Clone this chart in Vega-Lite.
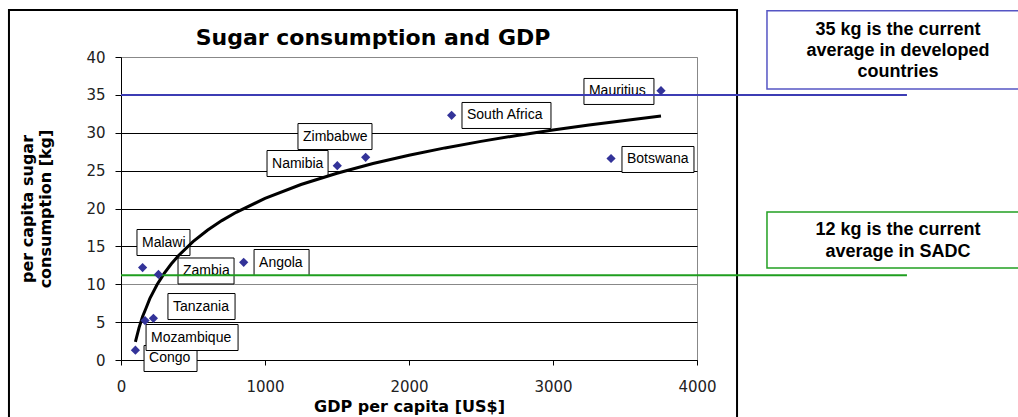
{
  "$schema": "https://vega.github.io/schema/vega-lite/v6.json",
  "width": 576,
  "height": 303,
  "autosize": {"type": "none"},
  "padding": {"left": 121, "top": 57, "right": 321, "bottom": 57},
  "background": "white",
  "title": {
    "text": "Sugar consumption and GDP",
    "font": "DejaVu Sans",
    "fontSize": 22,
    "fontWeight": "bold",
    "color": "#000",
    "frame": "group",
    "anchor": "middle",
    "dx": -36,
    "offset": -58,
    "baseline": "alphabetic"
  },
  "config": {
    "view": {"stroke": "#888", "strokeWidth": 1},
    "axisX": {
      "grid": false,
      "tickCount": 10,
      "domainColor": "#000",
      "tickColor": "#000",
      "tickSize": 5,
      "labelFont": "DejaVu Sans",
      "labelFontSize": 15,
      "labelColor": "#222",
      "labelPadding": 14,
      "labelFlush": false,
      "titleFont": "DejaVu Sans",
      "titleFontSize": 16,
      "titleFontWeight": "bold",
      "titleColor": "#000",
      "titlePadding": 4
    },
    "axisY": {
      "grid": true,
      "gridWidth": 1,
      "tickCount": 12,
      "gridColor": {"condition": {"test": "datum.value === 10 || datum.value === 40", "value": "#888"}, "value": "#000"},
      "domainColor": "#000",
      "tickColor": "#000",
      "tickSize": 6,
      "labelFont": "DejaVu Sans",
      "labelFontSize": 15,
      "labelColor": "#222",
      "labelPadding": 10,
      "labelOverlap": false,
      "titleFont": "DejaVu Sans",
      "titleFontSize": 16,
      "titleFontWeight": "bold",
      "titleColor": "#000",
      "titlePadding": 32,
      "titleLineHeight": 18
    }
  },
  "datasets": {
    "one": [{}],
    "countries": [
      {"country": "Congo", "gdp": 100, "sugar": 1.3, "label_x0": 160, "label_x1": 528, "label_y": 0.2},
      {"country": "Mozambique", "gdp": 167, "sugar": 5.2, "label_x0": 174, "label_x1": 813, "label_y": 2.97},
      {"country": "Tanzania", "gdp": 225, "sugar": 5.5, "label_x0": 326, "label_x1": 792, "label_y": 7.06},
      {"country": "Malawi", "gdp": 150, "sugar": 12.2, "label_x0": 111, "label_x1": 479, "label_y": 15.51},
      {"country": "Zambia", "gdp": 260, "sugar": 11.3, "label_x0": 396, "label_x1": 785, "label_y": 11.75},
      {"country": "Angola", "gdp": 852, "sugar": 12.9, "label_x0": 924, "label_x1": 1306, "label_y": 12.87},
      {"country": "Namibia", "gdp": 1502, "sugar": 25.65, "label_x0": 1014, "label_x1": 1438, "label_y": 25.94},
      {"country": "Zimbabwe", "gdp": 1699, "sugar": 26.75, "label_x0": 1229, "label_x1": 1743, "label_y": 29.5},
      {"country": "South Africa", "gdp": 2296, "sugar": 32.3, "label_x0": 2368, "label_x1": 2986, "label_y": 32.28},
      {"country": "Botswana", "gdp": 3403, "sugar": 26.6, "label_x0": 3479, "label_x1": 3979, "label_y": 26.47},
      {"country": "Mauritius", "gdp": 3750, "sugar": 35.55, "label_x0": 3215, "label_x1": 3701, "label_y": 35.45}
    ],
    "trend": [
      {"gdp": 100, "sugar": 2.4},
      {"gdp": 125, "sugar": 4.24},
      {"gdp": 150, "sugar": 5.74},
      {"gdp": 175, "sugar": 6.9},
      {"gdp": 200, "sugar": 8.1},
      {"gdp": 250, "sugar": 9.94},
      {"gdp": 300, "sugar": 11.44},
      {"gdp": 350, "sugar": 12.7},
      {"gdp": 400, "sugar": 13.8},
      {"gdp": 500, "sugar": 15.63},
      {"gdp": 600, "sugar": 17.13},
      {"gdp": 700, "sugar": 18.4},
      {"gdp": 800, "sugar": 19.5},
      {"gdp": 1000, "sugar": 21.33},
      {"gdp": 1250, "sugar": 23.17},
      {"gdp": 1500, "sugar": 24.66},
      {"gdp": 1750, "sugar": 25.93},
      {"gdp": 2000, "sugar": 27.03},
      {"gdp": 2250, "sugar": 28.0},
      {"gdp": 2500, "sugar": 28.86},
      {"gdp": 2750, "sugar": 29.65},
      {"gdp": 3000, "sugar": 30.36},
      {"gdp": 3250, "sugar": 31.02},
      {"gdp": 3500, "sugar": 31.63},
      {"gdp": 3750, "sugar": 32.2}
    ]
  },
  "layer": [
    {
      "data": {"name": "one"},
      "mark": {"type": "rect", "fill": "white", "fillOpacity": 0, "stroke": "#000", "strokeWidth": 2},
      "encoding": {
        "x": {"datum": -778, "type": "quantitative"},
        "x2": {"datum": 4278},
        "y": {"datum": 46.2, "type": "quantitative"},
        "y2": {"datum": -8.6}
      }
    },
    {
      "data": {"name": "one"},
      "mark": {"type": "rect", "fill": "white", "stroke": "#5555c4", "strokeWidth": 1.5},
      "encoding": {
        "x": {"datum": 4486, "type": "quantitative"},
        "x2": {"datum": 6278},
        "y": {"datum": 46.1, "type": "quantitative"},
        "y2": {"datum": 35.78}
      }
    },
    {
      "data": {"name": "one"},
      "mark": {"type": "rect", "fill": "white", "stroke": "#22a022", "strokeWidth": 1.5},
      "encoding": {
        "x": {"datum": 4486, "type": "quantitative"},
        "x2": {"datum": 6278},
        "y": {"datum": 19.54, "type": "quantitative"},
        "y2": {"datum": 12.15}
      }
    },
    {
      "data": {"name": "one"},
      "mark": {
        "type": "text",
        "text": ["35 kg is the current", "average in developed", "countries"],
        "font": "Liberation Sans",
        "fontSize": 18,
        "fontWeight": "bold",
        "color": "#000",
        "align": "center",
        "baseline": "middle",
        "lineHeight": 21
      },
      "encoding": {
        "x": {"datum": 5396, "type": "quantitative"},
        "y": {"datum": 43.56, "type": "quantitative"}
      }
    },
    {
      "data": {"name": "one"},
      "mark": {
        "type": "text",
        "text": ["12 kg is the current", "average in SADC"],
        "font": "Liberation Sans",
        "fontSize": 18,
        "fontWeight": "bold",
        "color": "#000",
        "align": "center",
        "baseline": "middle",
        "lineHeight": 21.5
      },
      "encoding": {
        "x": {"datum": 5396, "type": "quantitative"},
        "y": {"datum": 17.16, "type": "quantitative"}
      }
    },
    {
      "data": {"name": "countries"},
      "mark": {"type": "bar", "orient": "horizontal", "size": 26, "fill": "white", "stroke": "#000", "strokeWidth": 1},
      "encoding": {
        "x": {"field": "label_x0", "type": "quantitative"},
        "x2": {"field": "label_x1"},
        "y": {"field": "label_y", "type": "quantitative", "scale": {"padding": 0}}
      }
    },
    {
      "data": {"name": "countries"},
      "mark": {"type": "text", "align": "left", "baseline": "middle", "dx": 5, "font": "Liberation Sans", "fontSize": 14, "color": "#000"},
      "encoding": {
        "x": {"field": "label_x0", "type": "quantitative"},
        "y": {"field": "label_y", "type": "quantitative"},
        "text": {"field": "country"}
      }
    },
    {
      "data": {"name": "trend"},
      "mark": {"type": "line", "color": "#000", "strokeWidth": 3},
      "encoding": {
        "x": {"field": "gdp", "type": "quantitative"},
        "y": {"field": "sugar", "type": "quantitative"}
      }
    },
    {
      "data": {"name": "one"},
      "mark": {"type": "rule", "color": "#3c3cb4", "strokeWidth": 2},
      "encoding": {
        "x": {"datum": 0, "type": "quantitative"},
        "x2": {"datum": 5458},
        "y": {"datum": 35, "type": "quantitative"}
      }
    },
    {
      "data": {"name": "one"},
      "mark": {"type": "rule", "color": "#1f9e1f", "strokeWidth": 2},
      "encoding": {
        "x": {"datum": 0, "type": "quantitative"},
        "x2": {"datum": 5458},
        "y": {"datum": 11.2, "type": "quantitative"}
      }
    },
    {
      "data": {"name": "countries"},
      "mark": {"type": "point", "shape": "diamond", "filled": true, "size": 85, "color": "#333399", "opacity": 1},
      "encoding": {
        "x": {
          "field": "gdp",
          "type": "quantitative",
          "scale": {"domain": [0, 4000], "nice": false, "zero": false, "padding": 0},
          "axis": {"title": "GDP per capita [US$]", "values": [0, 1000, 2000, 3000, 4000], "format": "d"}
        },
        "y": {
          "field": "sugar",
          "type": "quantitative",
          "scale": {"domain": [0, 40], "nice": false, "zero": false, "padding": 0},
          "axis": {
            "title": ["per capita sugar", "consumption [kg]"],
            "values": [0, 5, 10, 15, 20, 25, 30, 35, 40]
          }
        }
      }
    }
  ]
}
